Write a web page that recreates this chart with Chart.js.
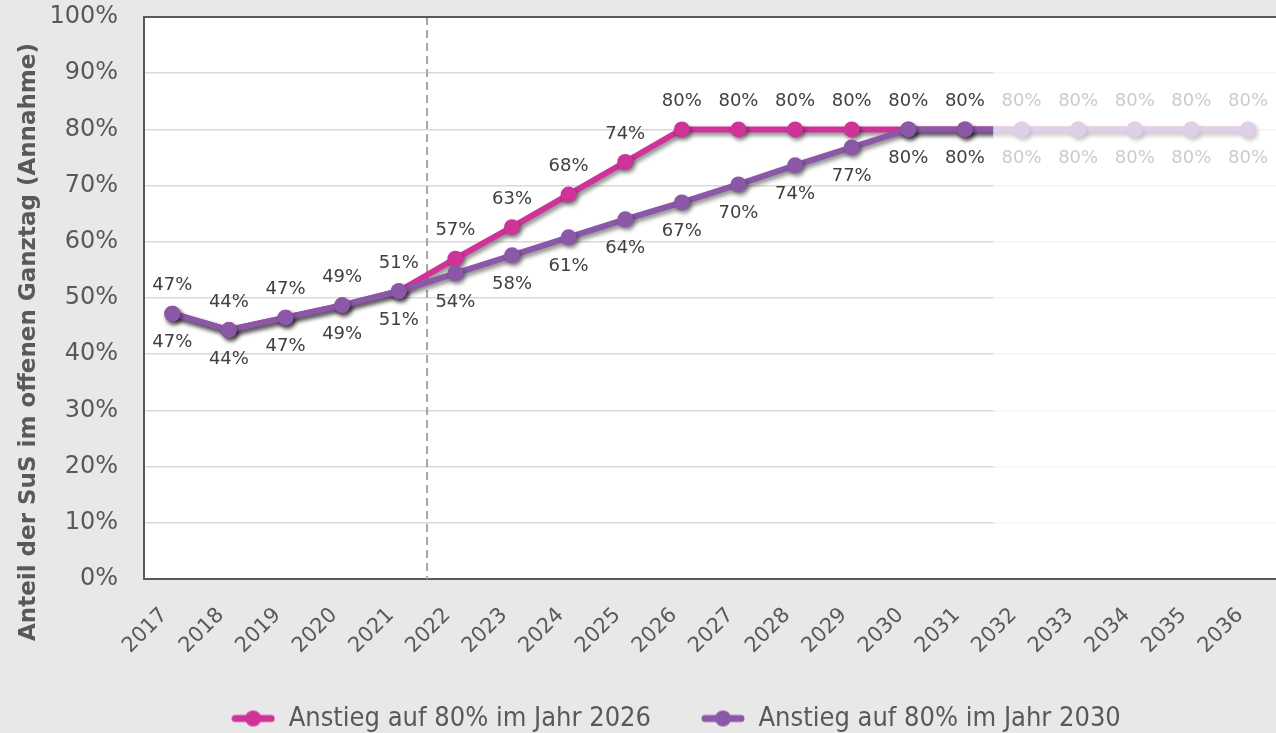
<!DOCTYPE html>
<html>
<head>
<meta charset="utf-8">
<script src="https://cdn.jsdelivr.net/npm/chart.js@4/dist/chart.umd.min.js"></script>
<style>
  html, body { margin: 0; padding: 0; background: #e8e8e8; overflow: hidden; }
  .wrap { position: relative; width: 1290px; height: 733px; }
</style>
</head>
<body>
<div class="wrap"><canvas id="chart"></canvas></div>
<script>
// Data
const years = ["2017", "2018", "2019", "2020", "2021", "2022", "2023", "2024", "2025", "2026",
  "2027", "2028", "2029", "2030", "2031", "2032", "2033", "2034", "2035", "2036"];
const rise2026 = [47.2, 44.3, 46.5, 48.7, 51.2, 57.0, 62.6, 68.4, 74.2, 80, 80, 80, 80, 80, 80, 80, 80, 80, 80, 80];
const rise2030 = [47.2, 44.3, 46.5, 48.7, 51.2, 54.4, 57.6, 60.8, 64.0, 67.0, 70.2, 73.6, 76.8, 80, 80, 80, 80, 80, 80, 80];
const seriesNames = ["Anstieg auf 80% im Jahr 2026", "Anstieg auf 80% im Jahr 2030"];
const yTicks = [0, 10, 20, 30, 40, 50, 60, 70, 80, 90, 100];
const yTitle = "Anteil der SuS im offenen Ganztag (Annahme)";

const MAGENTA = "#cf3399";
const PURPLE = "#8b58a8";
const TEXT = "#595959";
const FONT = "'DejaVu Sans', Verdana, sans-serif";
const lastSolidIndex = 14; // 2031, everything after is faded
const dashAfterIndex = 4;  // between 2021 and 2022

// legend icon: line with a dot, like the office chart
const legendIcon = (color) => {
  const c = document.createElement("canvas");
  c.width = 44; c.height = 18;
  const g = c.getContext("2d");
  g.strokeStyle = color; g.lineWidth = 7; g.lineCap = "round";
  g.beginPath(); g.moveTo(4, 9); g.lineTo(40, 9); g.stroke();
  g.fillStyle = color;
  g.beginPath(); g.arc(22, 9, 8, 0, Math.PI * 2); g.fill();
  return c;
};
const icons = [legendIcon(MAGENTA), legendIcon(PURPLE)];

const plotExtras = {
  id: "plotExtras",
  beforeDraw(chart) {
    const { ctx, chartArea: a } = chart;
    ctx.save();
    ctx.fillStyle = "#ffffff";
    ctx.fillRect(a.left, a.top, a.right - a.left, a.bottom - a.top);
    ctx.restore();
  },
  beforeDatasetsDraw(chart) {
    const { ctx, chartArea: a, scales } = chart;
    const x = (scales.x.getPixelForValue(dashAfterIndex) + scales.x.getPixelForValue(dashAfterIndex + 1)) / 2;
    ctx.save();
    ctx.strokeStyle = "#a6a6a6";
    ctx.lineWidth = 2;
    ctx.setLineDash([8, 5]);
    ctx.beginPath();
    ctx.moveTo(x, a.top);
    ctx.lineTo(x, a.bottom);
    ctx.stroke();
    ctx.restore();
  },
  beforeDatasetDraw(chart) {
    const ctx = chart.ctx;
    ctx.save();
    ctx.shadowColor = "rgba(0,0,0,0.45)";
    ctx.shadowBlur = 4;
    ctx.shadowOffsetX = 2;
    ctx.shadowOffsetY = 3;
  },
  afterDatasetDraw(chart) {
    chart.ctx.restore();
  },
  afterDatasetsDraw(chart) {
    const { ctx } = chart;
    ctx.save();
    ctx.font = "18px " + FONT;
    ctx.fillStyle = "#404040";
    ctx.textAlign = "center";
    ctx.textBaseline = "middle";
    [0, 1].forEach((di) => {
      const meta = chart.getDatasetMeta(di);
      const vals = chart.data.datasets[di].data;
      meta.data.forEach((pt, i) => {
        const dy = di === 0 ? -28 : 29;
        ctx.fillText(Math.round(vals[i]) + "%", pt.x, pt.y + dy);
      });
    });
    ctx.restore();
  },
  afterDraw(chart) {
    const { ctx, chartArea: a, scales } = chart;
    const fadeX = (scales.x.getPixelForValue(lastSolidIndex) + scales.x.getPixelForValue(lastSolidIndex + 1)) / 2;
    ctx.save();
    ctx.fillStyle = "rgba(255,255,255,0.72)";
    ctx.fillRect(fadeX, a.top + 1, a.right - fadeX, a.bottom - a.top - 2);
    // top edge of the plot frame
    ctx.strokeStyle = TEXT;
    ctx.lineWidth = 2;
    ctx.beginPath();
    ctx.moveTo(a.left, a.top);
    ctx.lineTo(a.right, a.top);
    ctx.stroke();
    // y axis title, sits lower than the plot centre in the original
    ctx.translate(29, 342);
    ctx.rotate(-Math.PI / 2);
    ctx.font = "bold 23px " + FONT;
    ctx.fillStyle = TEXT;
    ctx.textAlign = "center";
    ctx.textBaseline = "middle";
    ctx.fillText(yTitle, 0, 0);
    ctx.restore();
  },
  afterLayout(chart) {
    // legend sits a bit right of centre in the original
    if (chart.legend) {
      chart.legend.left += 35;
      chart.legend.right += 35;
    }
  }
};

new Chart(document.getElementById("chart"), {
  type: "line",
  data: {
    labels: years,
    datasets: [
      {
        label: seriesNames[0],
        data: rise2026,
        borderColor: MAGENTA,
        backgroundColor: MAGENTA,
        borderWidth: 6,
        pointRadius: 8,
        pointBorderWidth: 0,
        order: 1,
      },
      {
        label: seriesNames[1],
        data: rise2030,
        borderColor: PURPLE,
        backgroundColor: PURPLE,
        borderWidth: 6,
        pointRadius: 8,
        pointBorderWidth: 0,
        order: 0,
      },
    ],
  },
  options: {
    responsive: true,
    maintainAspectRatio: false,
    animation: false,
    layout: { padding: { top: 17, right: 8, bottom: -9, left: 0 } },
    plugins: {
      tooltip: { enabled: false },
      legend: {
        position: "bottom",
        labels: {
          usePointStyle: true,
          pointStyleWidth: 44,
          padding: 50,
          color: TEXT,
          font: { family: "'DejaVu Sans Condensed', 'DejaVu Sans', sans-serif", size: 27 },
          sort: (a, b) => a.datasetIndex - b.datasetIndex,
          generateLabels: (chart) =>
            Chart.defaults.plugins.legend.labels.generateLabels(chart)
              .map((l) => ({ ...l, pointStyle: icons[l.datasetIndex] })),
        },
      },
    },
    scales: {
      x: {
        offset: true,
        grid: { display: false, drawTicks: false },
        border: { color: TEXT, width: 2 },
        ticks: {
          color: TEXT,
          font: { family: FONT, size: 21 },
          minRotation: 45,
          maxRotation: 45,
          padding: 24,
          labelOffset: -8,
          autoSkip: false,
        },
        afterFit: (s) => { s.height = 76; },
      },
      y: {
        min: 0,
        max: 100,
        afterBuildTicks: (s) => { s.ticks = yTicks.map((v) => ({ value: v })); },
        grid: { color: "#d9d9d9", lineWidth: 1.5, drawTicks: false },
        border: { color: TEXT, width: 2 },
        ticks: {
          color: TEXT,
          font: { family: FONT, size: 24 },
          padding: 26,
          callback: (v) => v + "%",
        },
        afterFit: (s) => {
          s.width = 144;
          s.paddingTop = 0;
          s.paddingBottom = 0;
        },
      },
    },
  },
  plugins: [plotExtras],
});
</script>
</body>
</html>
